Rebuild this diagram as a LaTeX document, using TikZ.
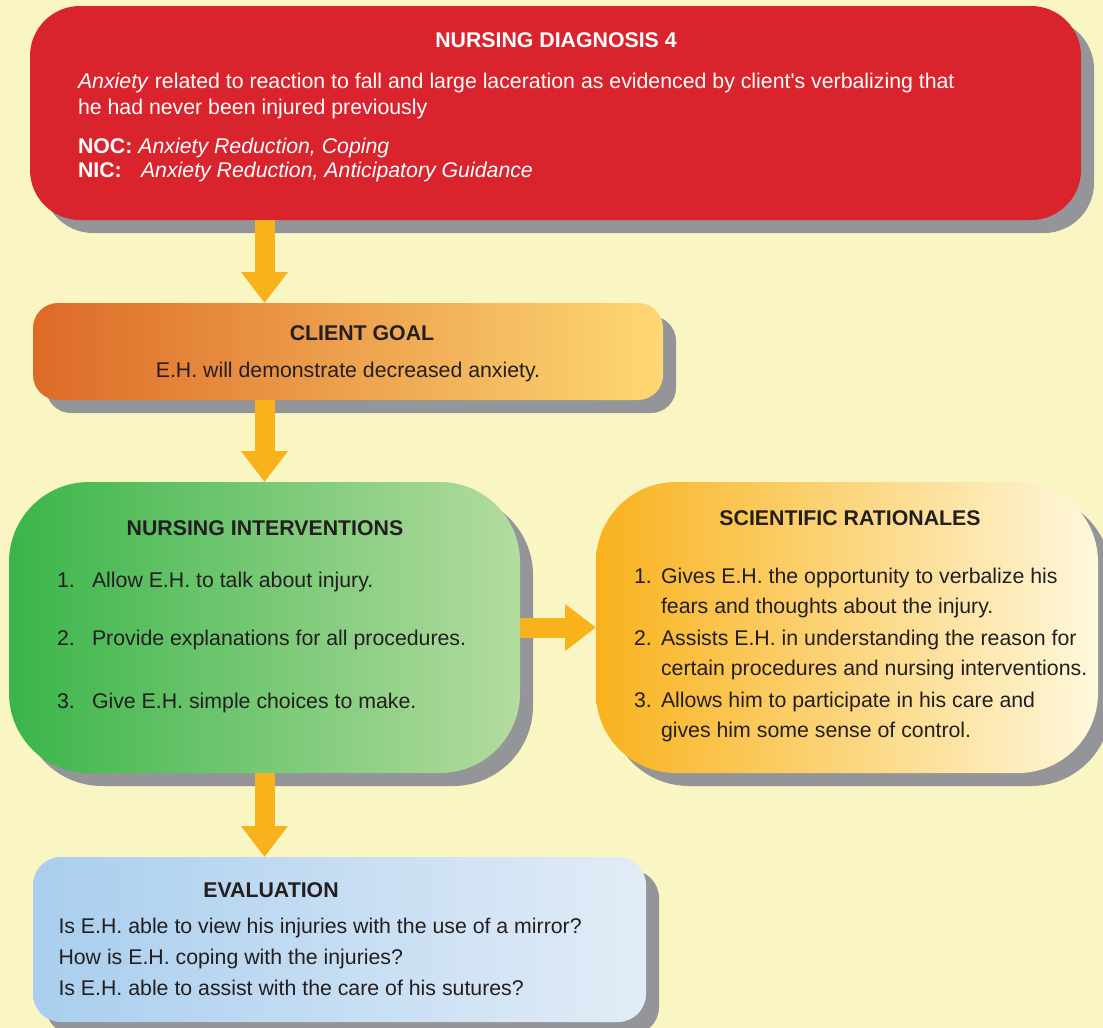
\documentclass[tikz,border=0pt]{standalone}
\usepackage{fontspec}
\setmainfont{Liberation Sans}[Ligatures=TeXOff]
\usetikzlibrary{arrows.meta,shadows}

\definecolor{paper}{HTML}{FAF6C3}
\definecolor{diagred}{HTML}{D9232D}
\definecolor{shadowgray}{HTML}{939598}
\definecolor{flowarrow}{HTML}{F8B21C}
\definecolor{inkdark}{HTML}{231F20}
\definecolor{goalL}{HTML}{DD6A27}
\definecolor{goalR}{HTML}{FDD874}
\definecolor{interL}{HTML}{3AB54A}
\definecolor{interR}{HTML}{B4DCA0}
\definecolor{ratL}{HTML}{F9B21D}
\definecolor{ratR}{HTML}{FEF8DC}
\definecolor{evalL}{HTML}{A9CEEE}
\definecolor{evalR}{HTML}{E2ECF7}

\tikzset{
  panel/.style={draw=none, inner sep=0pt, outer sep=0pt,
    drop shadow={shadow xshift=13pt, shadow yshift=-13pt, fill=shadowgray, opacity=1}},
  txt/.style={inner sep=0pt, outer sep=0pt, anchor=base west, text=inkdark,
    font=\fontsize{21.3}{26}\selectfont},
  ttl/.style={txt, anchor=base, font=\fontsize{21.3}{26}\selectfont\bfseries},
  link/.style={draw=flowarrow, line width=20pt,
    -{Triangle[width=45pt,length=31pt]}}
}

\begin{document}
\begin{tikzpicture}[x=1pt,y=-1pt]
  \useasboundingbox (0,0) rectangle (1103,1028);
  \fill[paper] (0,0) rectangle (1103,1028);

  % boxes
  \node[panel, fill=diagred, rounded corners=50pt,
        minimum width=1051pt, minimum height=214pt] (diag) at (555.5,113) {};
  \node[panel, rounded corners=25pt, left color=goalL, right color=goalR,
        minimum width=630pt, minimum height=97pt] (goal) at (348,351.5) {};
  \node[panel, rounded corners=80pt, left color=interL, right color=interR,
        minimum width=511pt, minimum height=291pt] (interv) at (264.5,627.5) {};
  \node[panel, rounded corners=80pt, left color=ratL, right color=ratR,
        minimum width=502pt, minimum height=291pt] (rat) at (847,627.5) {};
  \node[panel, rounded corners=28pt, left color=evalL, right color=evalR,
        minimum width=613pt, minimum height=165pt] (eval) at (339.5,939.5) {};

  % connectors
  \draw[link] (diag.south -| interv.north) -- (goal.north -| interv.north);
  \draw[link] (goal.south -| interv.north) -- (interv.north);
  \draw[link] (interv.south) -- (eval.north -| interv.south);
  \draw[link] (interv.east) -- (rat.west);

  % nursing diagnosis
  \node[ttl, text=white] (dT) at (556,47) {NURSING DIAGNOSIS 4};
  \node[txt, text=white] (d1) at (78,88) {\textit{Anxiety} related to reaction to fall and large laceration as evidenced by client's verbalizing that};
  \node[txt, text=white] (d2) at (78,114) {he had never been injured previously};
  \node[txt, text=white] (d3) at (78,153) {\textbf{NOC:} \textit{Anxiety Reduction, Coping}};
  \node[txt, text=white] (d4) at (78,177) {\makebox[63pt][l]{\textbf{NIC:}}\textit{Anxiety Reduction, Anticipatory Guidance}};

  % client goal
  \node[ttl] (gT) at (362,340) {CLIENT GOAL};
  \node[txt, anchor=base] (g1) at (348,377) {E.H. will demonstrate decreased anxiety.};

  % nursing interventions
  \node[ttl] (iT) at (265,535) {NURSING INTERVENTIONS};
  \node[txt] (i1n) at (57,587) {1.};
  \node[txt] (i1) at (92,587) {Allow E.H. to talk about injury.};
  \node[txt] (i2n) at (57,645) {2.};
  \node[txt] (i2) at (92,645) {Provide explanations for all procedures.};
  \node[txt] (i3n) at (57,708) {3.};
  \node[txt] (i3) at (92,708) {Give E.H. simple choices to make.};

  % scientific rationales
  \node[ttl] (rT) at (850,525) {SCIENTIFIC RATIONALES};
  \node[txt] (r1n) at (634,583) {1.};
  \node[txt] (r1a) at (661,583) {Gives E.H. the opportunity to verbalize his};
  \node[txt] (r1b) at (661,613) {fears and thoughts about the injury.};
  \node[txt] (r2n) at (634,645) {2.};
  \node[txt] (r2a) at (661,645) {Assists E.H. in understanding the reason for};
  \node[txt] (r2b) at (661,675) {certain procedures and nursing interventions.};
  \node[txt] (r3n) at (634,707) {3.};
  \node[txt] (r3a) at (661,707) {Allows him to participate in his care and};
  \node[txt] (r3b) at (661,737) {gives him some sense of control.};

  % evaluation
  \node[ttl] (eT) at (271,897) {EVALUATION};
  \node[txt] (e1) at (58.5,933) {Is E.H. able to view his injuries with the use of a mirror?};
  \node[txt] (e2) at (58.5,964) {How is E.H. coping with the injuries?};
  \node[txt] (e3) at (58.5,995) {Is E.H. able to assist with the care of his sutures?};
\end{tikzpicture}
\end{document}
